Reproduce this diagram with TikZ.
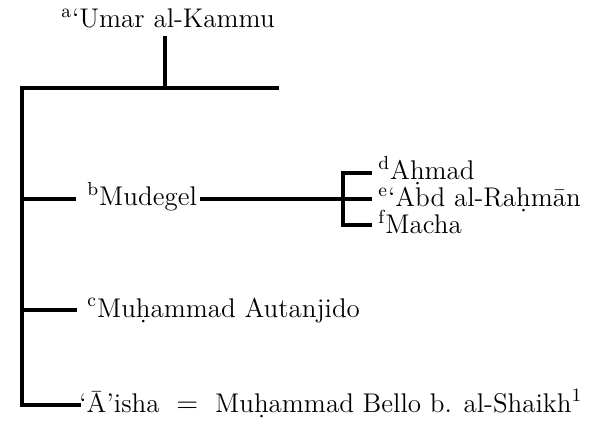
\documentclass[tikz,border=0pt]{standalone}
\usepackage{tikz}
\tikzstyle{kin}=[line width=2.3pt,line cap=rect,line join=miter]
\tikzstyle{person}=[anchor=base west,inner sep=0pt,font=\fontsize{13.5}{15}\selectfont]
\tikzstyle{son}=[person,text height=7pt,text depth=1.5pt]
\newcommand\sref[1]{\textsuperscript{#1}}

\begin{document}
\begin{tikzpicture}[x=0.5pt,y=-0.5pt]
	\useasboundingbox (0,0) rectangle (592,426);
	% father and his line
	\node[person,anchor=base] (umar) at (168,28) {\sref{a}`Umar al-Kammu};
	\coordinate (fork)  at (165,88);
	\coordinate (left)  at (22,88);
	\coordinate (right) at (277,88);
	\coordinate (jb)    at (22,199);
	\coordinate (jc)    at (22,310);
	\coordinate (jd)    at (22,405);
	% children
	\node[person] (mudegel) at (87,206) {\sref{b}Mudegel};
	\node[person] (autanjido) at (87,317) {\sref{c}Mu\d{h}ammad Autanjido};
	\node[person] (aisha) at (79,412) {`\=A'isha ${}={}$ Mu\d{h}ammad Bello b. al-Shaikh\sref{1}};
	% grandchildren
	\node[son] (ahmad) at (378,180) {\sref{d}A\d{h}mad};
	\node[son] (abd)   at (378,207) {\sref{e}`Abd al-Ra\d{h}m\=an};
	\node[son] (macha) at (378,234) {\sref{f}Macha};
	\draw[kin,shorten <=4.5pt] (umar.south -| fork) -- (fork);
	\draw[kin] (right) -- (left) -- (jd) -- (jd -| aisha.west);
	\draw[kin,shorten >=6.5pt] (jb) -- (jb -| mudegel.west);
	\draw[kin,shorten >=6pt] (jc) -- (jc -| autanjido.west);
	\draw[kin,shorten <=2.5pt,shorten >=4pt] (mudegel.east |- jb) -- (abd.west |- jb);
	\draw[kin,shorten <=4pt,shorten >=4pt] (ahmad.west |- 343,173) -- (343,173) -- (343,225) -- (macha.west |- 343,225);
\end{tikzpicture}
\end{document}
